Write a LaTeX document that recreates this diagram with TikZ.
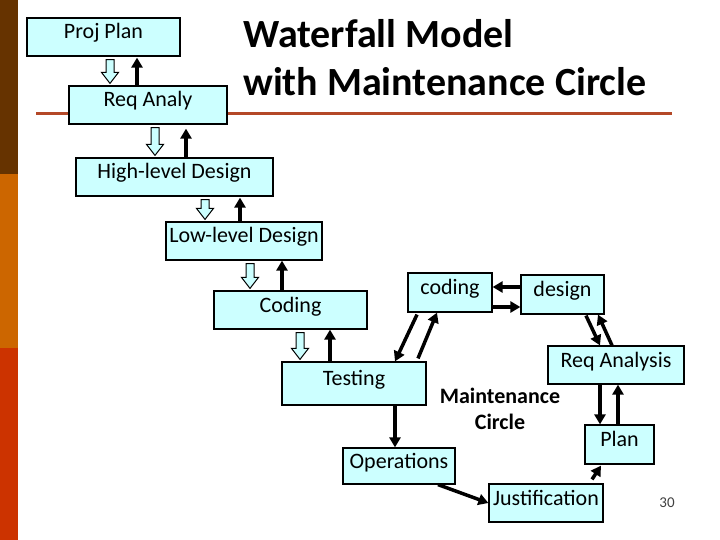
\documentclass[tikz,border=0pt]{standalone}
\usepackage{fontspec}
\setmainfont{Carlito}
\usetikzlibrary{arrows.meta,calc}
\newlength{\du}
\setlength{\du}{1pt}
\definecolor{boxfill}{rgb}{0.800000, 1.000000, 1.000000}
\definecolor{barbrown}{rgb}{0.400000, 0.200000, 0.000000}
\definecolor{barorange}{rgb}{0.800000, 0.400000, 0.000000}
\definecolor{barred}{rgb}{0.800000, 0.200000, 0.000000}
\definecolor{rulecolor}{rgb}{0.705882, 0.282353, 0.156863}
\tikzset{
  stagebox/.style={draw=black, fill=boxfill, line width=1.2\du, inner sep=0pt,
    text height=15\du, text depth=11\du, font=\fontsize{22}{26}\selectfont},
  backarrow/.style={line width=3.5\du, -{Triangle[width=11pt,length=10pt]}},
  hollowarrow/.style={draw=black, fill=boxfill, line width=1\du, line join=miter}
}
% hollow step arrow: start anchor, x offset, end anchor, x offset
\newcommand{\hollowdown}[4]{%
  \draw[hollowarrow] ($(#1)+(#2\du-4\du,3\du)$) -- ($(#1)+(#2\du+4\du,3\du)$)
    -- ($(#3)+(#4\du+4\du,-13\du)$) -- ($(#3)+(#4\du+8.5\du,-13\du)$)
    -- ($(#3)+(#4\du,-2\du)$)
    -- ($(#3)+(#4\du-8.5\du,-13\du)$) -- ($(#3)+(#4\du-4\du,-13\du)$) -- cycle;}

\begin{document}
\begin{tikzpicture}
\pgftransformxscale{1.000000}
\pgftransformyscale{-1.000000}
\useasboundingbox (0\du,0\du) rectangle (720\du,540\du);
% side bars
\fill[barbrown] (0\du,0\du) rectangle (18\du,174\du);
\fill[barorange] (0\du,174\du) rectangle (18\du,348\du);
\fill[barred] (0\du,348\du) rectangle (18\du,540\du);
% title
\node[anchor=north west, inner sep=0pt, align=left,
  font=\bfseries\fontsize{40}{48}\selectfont] (title) at (243\du,19\du)
  {Waterfall Model\\with Maintenance Circle};
\draw[rulecolor, line width=3\du] (36\du,114\du) -- (672\du,114\du);
% waterfall
\node[stagebox, minimum width=153\du, minimum height=38\du] (projplan) at (103.5\du,37\du) {Proj Plan};
\node[stagebox, minimum width=158\du, minimum height=38\du] (reqanaly) at (148\du,105\du) {Req Analy};
\node[stagebox, minimum width=197\du, minimum height=38\du] (highlevel) at (174.5\du,177\du) {High-level Design};
\node[stagebox, minimum width=156\du, minimum height=38\du] (lowlevel) at (244\du,241\du) {Low-level Design};
\node[stagebox, minimum width=153\du, minimum height=38\du] (coding) at (290.5\du,310\du) {Coding};
\node[stagebox, minimum width=144\du, minimum height=43\du] (testing) at (354\du,383.5\du) {Testing};
\node[stagebox, minimum width=112\du, minimum height=36\du] (operations) at (399\du,466\du) {Operations};
% maintenance circle
\node[stagebox, minimum width=84\du, minimum height=39\du] (codingm) at (450\du,292.5\du) {coding};
\node[stagebox, minimum width=83\du, minimum height=39\du] (designm) at (562.5\du,294.5\du) {design};
\node[stagebox, minimum width=136\du, minimum height=38\du] (reqanalysis) at (616\du,365\du) {Req Analysis};
\node[stagebox, minimum width=69\du, minimum height=39\du] (planm) at (619.5\du,444.5\du) {Plan};
\node[stagebox, minimum width=114\du, minimum height=38\du] (justification) at (546\du,503\du) {Justification};
\node[align=center, font=\bfseries\fontsize{22}{26}\selectfont] (maintlabel) at (500\du,409\du) {Maintenance\\Circle};
\node[font=\fontsize{15}{18}\selectfont, text=black!75] (pagenum) at (667\du,503\du) {30};
% down steps
\hollowdown{projplan.south}{6.5}{reqanaly.north}{-38}
\hollowdown{reqanaly.south}{7}{highlevel.north}{-19.5}
\hollowdown{highlevel.south}{30.5}{lowlevel.north}{-39}
\hollowdown{lowlevel.south}{6}{coding.north}{-40.5}
\hollowdown{coding.south}{9.5}{testing.north}{-54}
% back steps
\draw[backarrow] ($(reqanaly.north)+(-11\du,0)$) -- ($(projplan.south)+(33.5\du,1\du)$);
\draw[backarrow] ($(highlevel.north)+(11.5\du,0)$) -- ($(reqanaly.south)+(38\du,4\du)$);
\draw[backarrow] ($(lowlevel.north)+(-4\du,0)$) -- ($(highlevel.south)+(65.5\du,1\du)$);
\draw[backarrow] ($(coding.north)+(-8.5\du,0)$) -- ($(lowlevel.south)+(38\du,0)$);
\draw[backarrow] ($(testing.north)+(-24\du,0)$) -- ($(coding.south)+(39.5\du,0)$);
% circle connectors
\draw[backarrow] ($(codingm.south)+(-33\du,2\du)$) -- ($(testing.north)+(41\du,0)$);
\draw[backarrow] ($(testing.north)+(64\du,-3\du)$) -- ($(codingm.south)+(-13\du,0)$);
\draw[backarrow] ($(designm.west)+(0,-7.5\du)$) -- ($(codingm.east)+(0,-5.5\du)$);
\draw[backarrow] ($(codingm.east)+(0,14.5\du)$) -- ($(designm.west)+(0,12.5\du)$);
\draw[backarrow] ($(designm.south)+(23.5\du,1\du)$) -- ($(reqanalysis.north)+(-16\du,0)$);
\draw[backarrow] ($(reqanalysis.north)+(-4\du,0)$) -- ($(designm.south)+(35.5\du,0)$);
\draw[backarrow] ($(reqanalysis.south)+(-16\du,0)$) -- ($(planm.north)+(-19.5\du,0)$);
\draw[backarrow] ($(planm.north)+(-1.5\du,0)$) -- ($(reqanalysis.south)+(2\du,0)$);
\draw[backarrow] ($(justification.north)+(46\du,-4\du)$) -- ($(planm.south)+(-18.5\du,1\du)$);
\draw[backarrow] ($(testing.south)+(41\du,0)$) -- ($(operations.north)+(-4\du,0)$);
\draw[backarrow] ($(operations.south)+(39\du,0)$) -- (justification.west);
\end{tikzpicture}
\end{document}
